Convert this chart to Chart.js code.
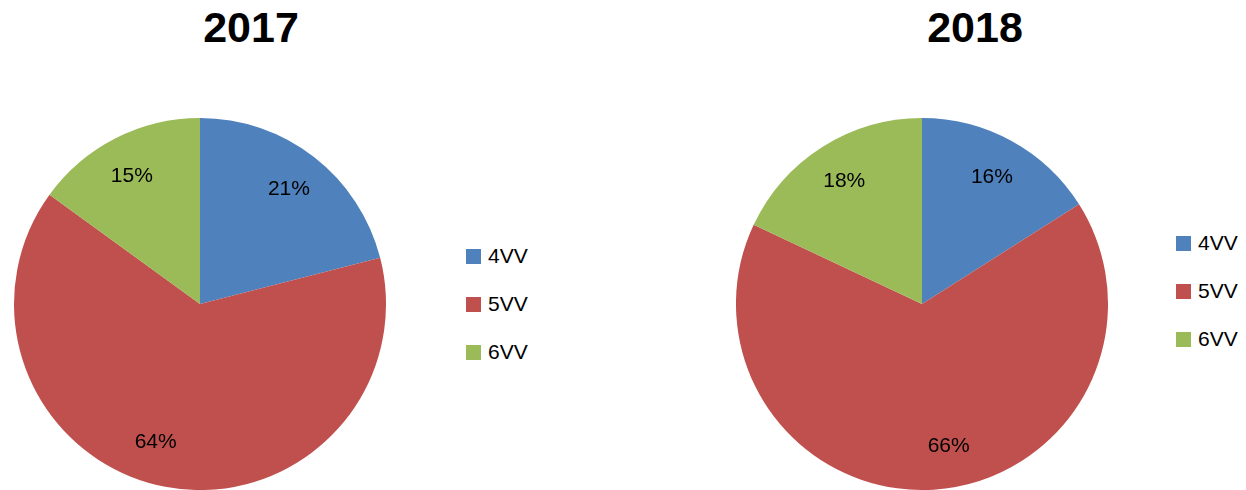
<!DOCTYPE html>
<html>
<head>
<meta charset="utf-8">
<script src="https://cdn.jsdelivr.net/npm/chart.js@4/dist/chart.umd.min.js"></script>
<style>
    body { margin: 0; width: 1246px; height: 490px; background: #fff; position: relative; overflow: hidden; font-family: "Liberation Sans", Arial, sans-serif; }
    .title { position: absolute; top: 6px; width: 200px; text-align: center; font-weight: bold; font-size: 43px; line-height: 43px; color: #000; }
    .pie { position: absolute; top: 118px; width: 372px; height: 372px; }
    .legend { position: absolute; }
    .legend-item { position: absolute; left: 0; height: 24px; display: flex; align-items: center; white-space: nowrap; font-size: 21px; color: #000; }
    .legend-box { width: 15px; height: 15px; margin-right: 7px; }
</style>
</head>
<body>
<div class="title" style="left:151px">2017</div>
<div class="title" style="left:875px">2018</div>
<div class="pie" style="left:14px"><canvas id="pie-2017"></canvas></div>
<div class="pie" style="left:736px"><canvas id="pie-2018"></canvas></div>
<div class="legend" id="legend-2017" style="left:466px; top:244px"></div>
<div class="legend" id="legend-2018" style="left:1176px; top:231px"></div>
<script>
// Data
const categories = ['4VV', '5VV', '6VV'];
const values2017 = [21, 64, 15];
const values2018 = [16, 66, 18];
const sliceColors = ['#4F81BD', '#C0504D', '#9BBB59'];

// Percent labels inside the slices (turn = small angle nudge in degrees, like Excel's best fit)
const pctLabels = {
    id: 'pctLabels',
    afterDatasetsDraw(chart, args, opts) {
        const ctx = chart.ctx;
        const meta = chart.getDatasetMeta(0);
        const data = chart.data.datasets[0].data;
        const total = data.reduce((a, b) => a + b, 0);
        const turn = opts.turn || [];
        ctx.save();
        ctx.font = '21px "Liberation Sans", Arial, sans-serif';
        ctx.fillStyle = '#000';
        ctx.textAlign = 'center';
        ctx.textBaseline = 'middle';
        meta.data.forEach((arc, i) => {
            const p = arc.getProps(['x', 'y', 'startAngle', 'endAngle', 'outerRadius'], true);
            const mid = (p.startAngle + p.endAngle) / 2 + (turn[i] || 0) * Math.PI / 180;
            const r = p.outerRadius * 0.78;
            const pct = Math.round(data[i] / total * 100) + '%';
            ctx.fillText(pct, p.x + Math.cos(mid) * r, p.y + Math.sin(mid) * r);
        });
        ctx.restore();
    }
};

function makePie(canvasId, values, turn) {
    return new Chart(document.getElementById(canvasId), {
        type: 'pie',
        data: {
            labels: categories,
            datasets: [{
                data: values,
                backgroundColor: sliceColors,
                borderWidth: 0
            }]
        },
        options: {
            responsive: true,
            maintainAspectRatio: false,
            animation: false,
            layout: { padding: 0 },
            plugins: {
                legend: { display: false },
                tooltip: { enabled: false },
                title: { display: false },
                pctLabels: { turn: turn }
            }
        },
        plugins: [pctLabels]
    });
}

function makeLegend(elId) {
    const el = document.getElementById(elId);
    categories.forEach((name, i) => {
        const item = document.createElement('div');
        item.className = 'legend-item';
        item.style.top = (i * 48) + 'px';
        const box = document.createElement('span');
        box.className = 'legend-box';
        box.style.background = sliceColors[i];
        const txt = document.createElement('span');
        txt.textContent = name;
        item.appendChild(box);
        item.appendChild(txt);
        el.appendChild(item);
    });
}

makePie('pie-2017', values2017, [0, 7, -1]);
makePie('pie-2018', values2018, [0, -7, 0]);
makeLegend('legend-2017');
makeLegend('legend-2018');
</script>
</body>
</html>
